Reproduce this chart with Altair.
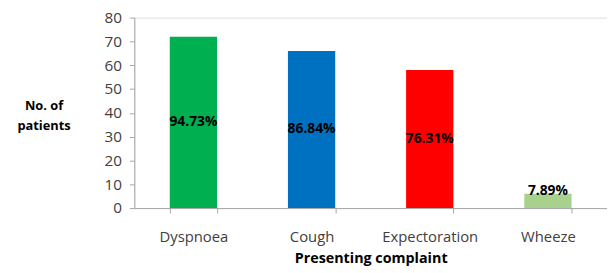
import altair as alt
import pandas as pd

categories = ["Dyspnoea", "Cough", "Expectoration", "Wheeze"]
patients = [72, 66, 58, 6]
percent_labels = ["94.73%", "86.84%", "76.31%", "7.89%"]
colors = ["#00B050", "#0070C0", "#FF0000", "#A9D18E"]
y_ticks = [0, 10, 20, 30, 40, 50, 60, 70, 80]

df = pd.DataFrame({"cat": categories, "n": patients, "pct": percent_labels, "col": colors})

FONT = "Open Sans"

yaxis = alt.Axis(title=["No. of", "patients"], titleAngle=0, titleAlign="center",
                 titleBaseline="top", titleX=-92, titleY=83, titleLineHeight=20,
                 titleFont=FONT, titleFontSize=13, titleFontWeight="bold", titleColor="#000000",
                 values=y_ticks, labelOverlap=False, labelFontSize=15.5,
                 labelColor="#404040", labelFont=FONT, labelPadding=8, domainColor="#A6A6A6",
                 tickColor="#A6A6A6", tickSize=5, grid=False)
yscale = alt.Scale(domain=[0, 80])

base = alt.Chart(df).encode(
    x=alt.X("cat:N", sort=categories,
            scale=alt.Scale(paddingInner=0.6, paddingOuter=0.3),
            axis=alt.Axis(title="Presenting complaint", labelAngle=0, tickBand="extent",
                          labelFontSize=15, labelColor="#404040", labelFont=FONT,
                          titleFont=FONT, titleFontSize=14.5, titleFontWeight="bold",
                          titleColor="#000000", titlePadding=7, labelPadding=17,
                          domainColor="#A6A6A6", tickColor="#A6A6A6", tickSize=5, grid=False)),
)

bars = base.mark_bar().encode(
    y=alt.Y("n:Q", scale=yscale, axis=yaxis),
    color=alt.Color("col:N", scale=None),
)

labels = base.transform_calculate(
    ly="max(datum.n / 2, 7)"
).mark_text(font=FONT, fontSize=14, fontWeight="bold", color="#000000", baseline="middle").encode(
    y=alt.Y("ly:Q", scale=yscale, axis=yaxis),
    text="pct:N",
)

chart = (bars + labels).properties(
    width=479, height=193,
    autosize=alt.AutoSizeParams(type="none"),
    padding={"left": 128, "top": 8, "right": 0, "bottom": 60},
).configure_view(stroke=None).configure(background="white")

chart.save("out.html", embed_options={"renderer": "svg", "actions": False})
